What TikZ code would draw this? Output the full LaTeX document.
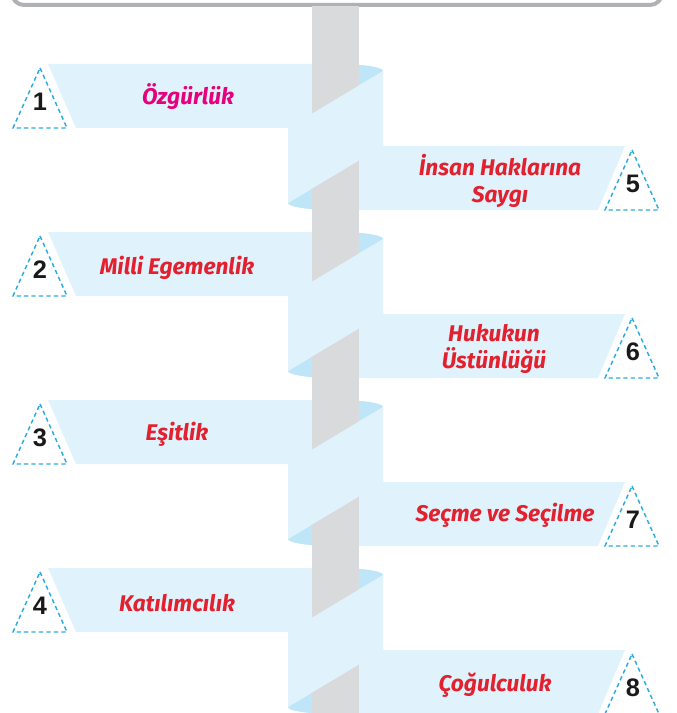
\documentclass[tikz,border=0pt]{standalone}
\usepackage{fontspec}
\setmainfont{Liberation Sans}
\newfontfamily\labfont{Fira Sans}
\definecolor{ribbon}{HTML}{E0F2FB}
\definecolor{ribbonback}{HTML}{BEE5F8}
\definecolor{pole}{HTML}{D9DADC}
\definecolor{framegray}{HTML}{AFB1B4}
\definecolor{labred}{HTML}{E3202E}
\definecolor{labmag}{HTML}{E5007E}
\definecolor{tricyan}{HTML}{2AACE2}
\begin{document}
\begin{tikzpicture}[x=0.75pt,y=-0.75pt,
  numtri/.style={draw=tricyan,line width=1.1pt,dash pattern=on 3.2pt off 2.4pt},
  numtxt/.style={font=\fontsize{19}{21}\selectfont\bfseries,text=black!90,inner sep=0pt},
  labtxt/.style={font=\labfont\bfseries\itshape\fontsize{17}{20.5}\selectfont,text=labred,align=center,inner sep=0pt}]
\useasboundingbox (0,0) rectangle (677,713);
\clip (0,0) rectangle (677,713);
% top frame
\draw[framegray,line width=3pt,fill=white,rounded corners=9] (12,-40) rectangle (662,5);
% ribbon pieces
\foreach \k in {0,1,2,3}{
  \pgfmathsetmacro{\T}{64+168*\k}
  \fill[ribbon] (48,\T) -- (335.5,\T) arc[start angle=-90,end angle=0,x radius=47.5,y radius=7]
     -- (383,\T+82) -- (625,\T+82) -- (598,\T+146) -- (335.5,\T+146)
     arc[start angle=90,end angle=180,x radius=47.5,y radius=7]
     -- (288,\T+64) -- (76,\T+64) -- cycle;
  \fill[ribbonback] (335.5,\T) arc[start angle=-90,end angle=0,x radius=47.5,y radius=7]
     -- (335.5,\T+35.5) -- cycle;
  \fill[ribbonback] (288,\T+139) -- (335.5,\T+110.5) -- (335.5,\T+146)
     arc[start angle=90,end angle=180,x radius=47.5,y radius=7] -- cycle;
}
% pole
\fill[pole] (312,6.5) rectangle (359,720);
% front bands
\foreach \k in {0,1,2,3}{
  \pgfmathsetmacro{\T}{64+168*\k}
  \fill[ribbon] (383,\T+7) -- (383,\T+82) -- (288,\T+139) -- (288,\T+64) -- cycle;
}
% left triangles and numbers
\foreach \k/\n in {0/1,1/2,2/3,3/4}{
  \pgfmathsetmacro{\T}{64+168*\k}
  \draw[numtri] (40,\T+4) -- (67,\T+64) -- (13,\T+64) -- cycle;
  \node[numtxt] (n\n) at (40,\T+38) {\n};
}
\foreach \k/\n in {0/5,1/6,2/7,3/8}{
  \pgfmathsetmacro{\T}{64+168*\k}
  \draw[numtri] (632,\T+86) -- (659,\T+146) -- (605,\T+146) -- cycle;
  \node[numtxt] (n\n) at (633,\T+120) {\n};
}
% labels
\node[labtxt,text=labmag] (l1) at (188,97) {Özgürlük};
\node[labtxt] (l2) at (177,268) {Milli Egemenlik};
\node[labtxt] (l3) at (177,434) {Eşitlik};
\node[labtxt] (l4) at (177,603) {Katılımcılık};
\node[labtxt] (l5) at (500,181) {İnsan Haklarına\\Saygı};
\node[labtxt] (l6) at (494,349) {Hukukun\\Üstünlüğü};
\node[labtxt] (l7) at (505,515) {Seçme ve Seçilme};
\node[labtxt] (l8) at (495,685) {Çoğulculuk};
\end{tikzpicture}
\end{document}
